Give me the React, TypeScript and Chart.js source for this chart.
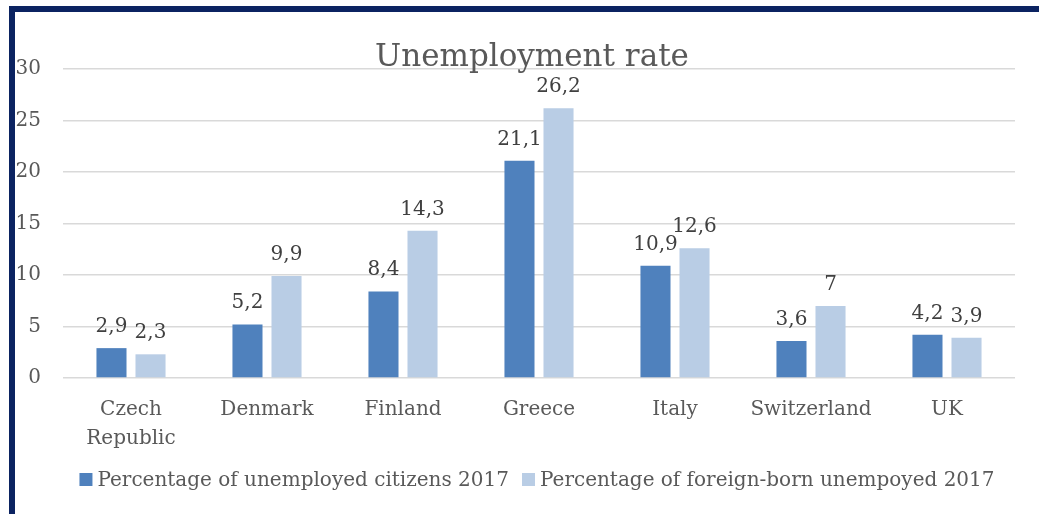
import { useEffect, useRef } from 'react';
import { Chart, registerables } from 'chart.js';

Chart.register(...registerables);

const chartTitle = 'Unemployment rate';
const categories: (string | string[])[] = [['Czech', 'Republic'], 'Denmark', 'Finland', 'Greece', 'Italy', 'Switzerland', 'UK'];
const citizens = [2.9, 5.2, 8.4, 21.1, 10.9, 3.6, 4.2];
const foreignBorn = [2.3, 9.9, 14.3, 26.2, 12.6, 7, 3.9];
const seriesLabels = ['Percentage of unemployed citizens 2017', 'Percentage of foreign-born unempoyed 2017'];
const seriesColors = ['#4f81bd', '#b9cde5'];
const yMin = 0;
const yMax = 30;
const yStep = 5;

const FONT = "'DejaVu Serif', serif";
const TEXT = '#595959';

const titlePlugin = {
  id: 'customTitle',
  afterDraw(chart: any) {
    const { ctx, chartArea } = chart;
    ctx.save();
    ctx.font = `31px ${FONT}`;
    ctx.fillStyle = TEXT;
    ctx.textAlign = 'center';
    ctx.textBaseline = 'alphabetic';
    ctx.fillText(chartTitle, (chartArea.left + chartArea.right) / 2 - 7, chartArea.top - 3);
    ctx.restore();
  },
};

const valueLabelPlugin = {
  id: 'valueLabels',
  afterDatasetsDraw(chart: any) {
    const { ctx } = chart;
    ctx.save();
    ctx.font = `20px ${FONT}`;
    ctx.fillStyle = '#404040';
    ctx.textAlign = 'center';
    ctx.textBaseline = 'alphabetic';
    chart.data.datasets.forEach((ds: any, di: number) => {
      const meta = chart.getDatasetMeta(di);
      meta.data.forEach((bar: any, i: number) => {
        const txt = String(ds.data[i]).replace('.', ',');
        ctx.fillText(txt, bar.x, bar.y - 16);
      });
    });
    ctx.restore();
  },
};

const legendPlugin = {
  id: 'customLegend',
  afterDraw(chart: any) {
    const { ctx, chartArea } = chart;
    ctx.save();
    ctx.font = `20px ${FONT}`;
    const box = 13;
    const gap = 5;
    const spacing = 13;
    const items = chart.data.datasets.map((ds: any) => ({
      label: ds.label,
      color: ds.backgroundColor,
      w: box + gap + ctx.measureText(ds.label).width,
    }));
    const total = items.reduce((s: number, it: any) => s + it.w, 0) + spacing * (items.length - 1);
    let x = (chartArea.left + chartArea.right) / 2 - 2 - total / 2;
    const baseline = chart.height - 28;
    items.forEach((it: any) => {
      ctx.fillStyle = it.color;
      ctx.fillRect(x, baseline - box, box, box);
      ctx.fillStyle = TEXT;
      ctx.textAlign = 'left';
      ctx.textBaseline = 'alphabetic';
      ctx.fillText(it.label, x + box + gap, baseline);
      x += it.w + spacing;
    });
    ctx.restore();
  },
};

export default function App() {
  const canvasRef = useRef<HTMLCanvasElement | null>(null);

  useEffect(() => {
    if (!canvasRef.current) return;
    const chart = new Chart(canvasRef.current, {
      type: 'bar',
      data: {
        labels: categories,
        datasets: [
          {
            label: seriesLabels[0],
            data: citizens,
            backgroundColor: seriesColors[0],
            borderWidth: 0,
            barPercentage: 0.77,
            categoryPercentage: 0.574,
          },
          {
            label: seriesLabels[1],
            data: foreignBorn,
            backgroundColor: seriesColors[1],
            borderWidth: 0,
            barPercentage: 0.77,
            categoryPercentage: 0.574,
          },
        ],
      },
      options: {
        responsive: false,
        animation: false,
        devicePixelRatio: 1,
        layout: { padding: { top: 69, right: 24, bottom: 0, left: 0 } },
        plugins: {
          legend: { display: false },
          title: { display: false },
          tooltip: { enabled: false },
        },
        scales: {
          x: {
            grid: { display: false, drawTicks: false },
            border: { display: false },
            ticks: {
              color: TEXT,
              font: { family: FONT, size: 20, lineHeight: 1.42 },
              padding: 18,
              maxRotation: 0,
              autoSkip: false,
            },
            afterFit(scale: any) {
              scale.height = 136;
            },
          },
          y: {
            min: yMin,
            max: yMax,
            grid: { color: '#d9d9d9', lineWidth: 1.5, drawTicks: false },
            border: { display: false },
            ticks: {
              stepSize: yStep,
              color: TEXT,
              font: { family: FONT, size: 20 },
              padding: 22,
            },
            afterFit(scale: any) {
              scale.width = 63;
            },
          },
        },
      },
      plugins: [titlePlugin, valueLabelPlugin, legendPlugin],
    } as any);
    return () => chart.destroy();
  }, []);

  return (
    <div style={{ position: 'fixed', left: 0, top: 0, width: 1039, height: 514, overflow: 'hidden', background: '#fff' }}>
      <canvas ref={canvasRef} width={1039} height={514} style={{ position: 'absolute', left: 0, top: 0, width: 1039, height: 514 }} />
      <div
        style={{
          position: 'absolute',
          left: 9,
          top: 6,
          width: 1200,
          height: 700,
          borderLeft: '6px solid #0b2361',
          borderTop: '6px solid #0b2361',
          pointerEvents: 'none',
        }}
      />
    </div>
  );
}
